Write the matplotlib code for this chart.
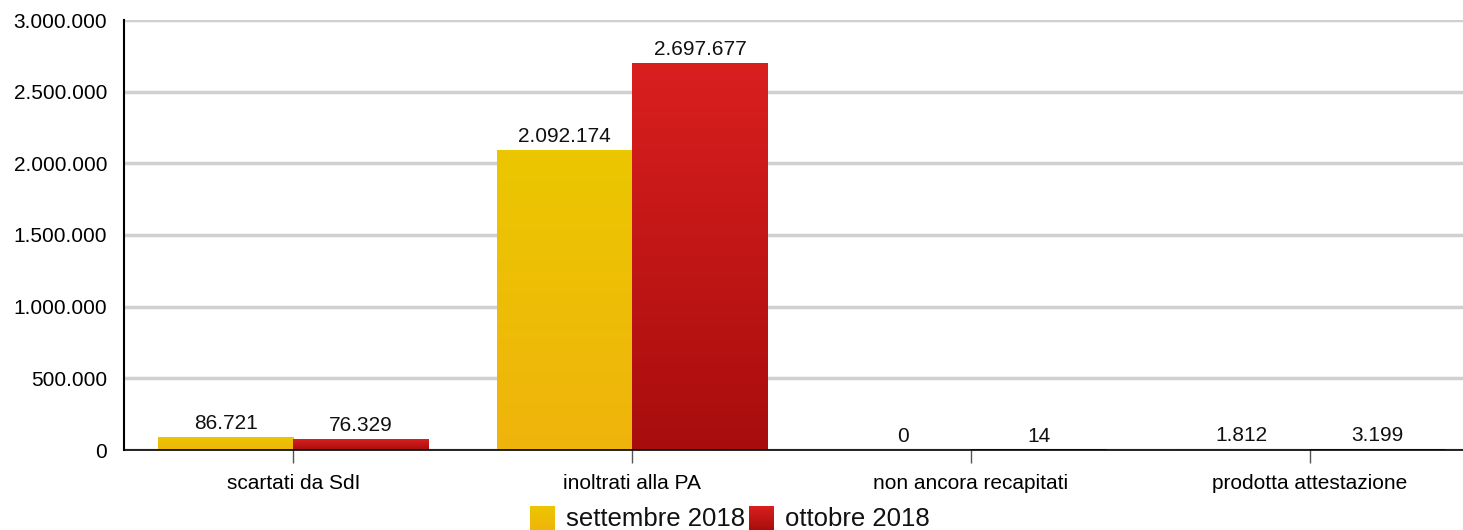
import numpy as np
import matplotlib.pyplot as plt
from matplotlib.colors import LinearSegmentedColormap

categories = ['scartati da SdI', 'inoltrati alla PA', 'non ancora recapitati', 'prodotta attestazione']
series_names = ['settembre 2018', 'ottobre 2018']
settembre = [86721, 2092174, 0, 1812]
ottobre = [76329, 2697677, 14, 3199]
yticks = [0, 500000, 1000000, 1500000, 2000000, 2500000, 3000000]

# top colour, bottom colour for each series
grad_colors = [('#ebc700', '#f0b40c'), ('#da1f1f', '#a80d0d')]

plt.rcParams['font.family'] = ['Liberation Sans', 'DejaVu Sans']


def fmt(v):
    return f'{v:,}'.replace(',', '.')


fig = plt.figure(figsize=(14.63, 5.3), dpi=100)
ax = fig.add_axes([124 / 1463, 1 - 450 / 530, 1 - 124 / 1463, 430 / 530])

x = np.arange(len(categories))
width = 0.40
ymax = 3000000

for i, vals in enumerate([settembre, ottobre]):
    top, bottom = grad_colors[i]
    cmap = LinearSegmentedColormap.from_list(f'g{i}', [bottom, top])
    for xi, v in zip(x, vals):
        left = xi - width if i == 0 else xi
        if v > 0:
            grad = np.linspace(0, 1, 256).reshape(-1, 1)
            ax.imshow(grad, cmap=cmap, aspect='auto', origin='lower',
                      extent=[left, left + width, 0, v], zorder=3)
        ax.text(left + width / 2, v + ymax * 0.01, fmt(v), ha='center', va='bottom',
                fontsize=15, color='#111111', zorder=4)

# plot area runs a little past the right edge of the picture
ax.set_xlim(-0.5, len(categories) - 0.5 - 16 / 338.7)
ax.set_ylim(0, ymax)
ax.set_yticks(yticks)
ax.set_yticklabels([fmt(t) for t in yticks], fontsize=15)
ax.set_xticks(x)
ax.set_xticklabels(categories, fontsize=15)
ax.tick_params(axis='y', length=0, pad=12)
ax.tick_params(axis='x', length=9, width=1, color='#555555', pad=8)
ax.grid(axis='y', color='#d0d0d0', linewidth=2.5, zorder=0)
ax.set_axisbelow(True)
for s in ['top', 'right']:
    ax.spines[s].set_visible(False)
ax.spines['left'].set_linewidth(1.5)
ax.spines['left'].set_zorder(5)
ax.spines['bottom'].set_linewidth(1.2)
ax.spines['bottom'].set_zorder(5)

# legend drawn in figure pixels
legend_items = [(530, series_names[0]), (749, series_names[1])]
for (px, name), (top, bottom) in zip(legend_items, grad_colors):
    cmap = LinearSegmentedColormap.from_list('lg', [bottom, top])
    lax = fig.add_axes([px / 1463, 0, 25 / 1463, 24 / 530])
    lax.imshow(np.linspace(0, 1, 64).reshape(-1, 1), cmap=cmap, aspect='auto', origin='lower')
    lax.axis('off')
    fig.text((px + 36) / 1463, 11 / 530, name, fontsize=18.5, va='center', ha='left', color='#111111')

fig.savefig('out.png', dpi=100)
